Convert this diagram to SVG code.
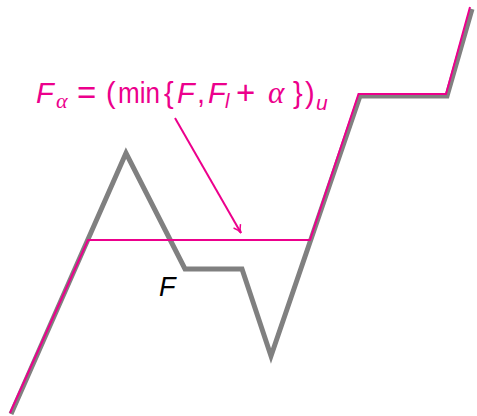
<svg xmlns="http://www.w3.org/2000/svg" width="477" height="416" viewBox="0 0 477 416">
<defs>
<style>
.g{fill:none;stroke:#808080;stroke-width:5;stroke-linejoin:miter}
.m{fill:none;stroke:#EC008C;stroke-width:2}
.t{font-family:"Liberation Sans","DejaVu Sans",sans-serif;fill:#EC008C}
.it{font-style:italic}
.s{font-family:"Liberation Serif",serif;font-style:italic}
</style>
<marker id="ah" viewBox="0 0 10 10" refX="9" refY="5" markerWidth="10" markerHeight="10" markerUnits="userSpaceOnUse" orient="auto">
<path d="M1,1 Q5,4.5 9,5 Q5,5.5 1,9" fill="none" stroke="#EC008C" stroke-width="1.5"/>
</marker>
</defs>
<rect width="477" height="416" fill="#fff"/>
<g id="F-curve">
<polyline class="g" points="11,414 126,153 185,269 242,269 271,356 360,96 447,96 472,9"/>
</g>
<g id="F-alpha-curve">
<polyline class="m" points="10,413 88,240 310,240 358.5,94 446,94 470,7"/>
</g>
<g id="connectors">
<line x1="175" y1="118" x2="241" y2="233" class="m" marker-end="url(#ah)"/>
</g>
<g id="label-F">
<text x="159" y="296" font-family="Liberation Sans,sans-serif" font-style="italic" font-size="27" fill="#000">F</text>
</g>
<g id="label-formula">
<text class="t" font-size="29"><tspan x="36" y="103" class="it">F</tspan><tspan x="56" y="108" font-size="22" class="s">α</tspan><tspan x="77" y="104" font-size="33">=</tspan><tspan x="106" y="103">(</tspan><tspan x="118" y="103" textLength="42" lengthAdjust="spacingAndGlyphs">min</tspan><tspan x="164" y="103">{</tspan><tspan x="177" y="103" class="it">F</tspan><tspan x="197" y="103">,</tspan><tspan x="208" y="103" class="it">F</tspan><tspan x="225" y="108" font-size="20" class="it">l</tspan><tspan x="236" y="104" font-size="33">+</tspan><tspan x="268" y="103" font-size="31" class="s">α</tspan><tspan x="293" y="103">}</tspan><tspan x="305" y="103">)</tspan><tspan x="316" y="110" font-size="21" class="it">u</tspan></text>
</g>
</svg>
